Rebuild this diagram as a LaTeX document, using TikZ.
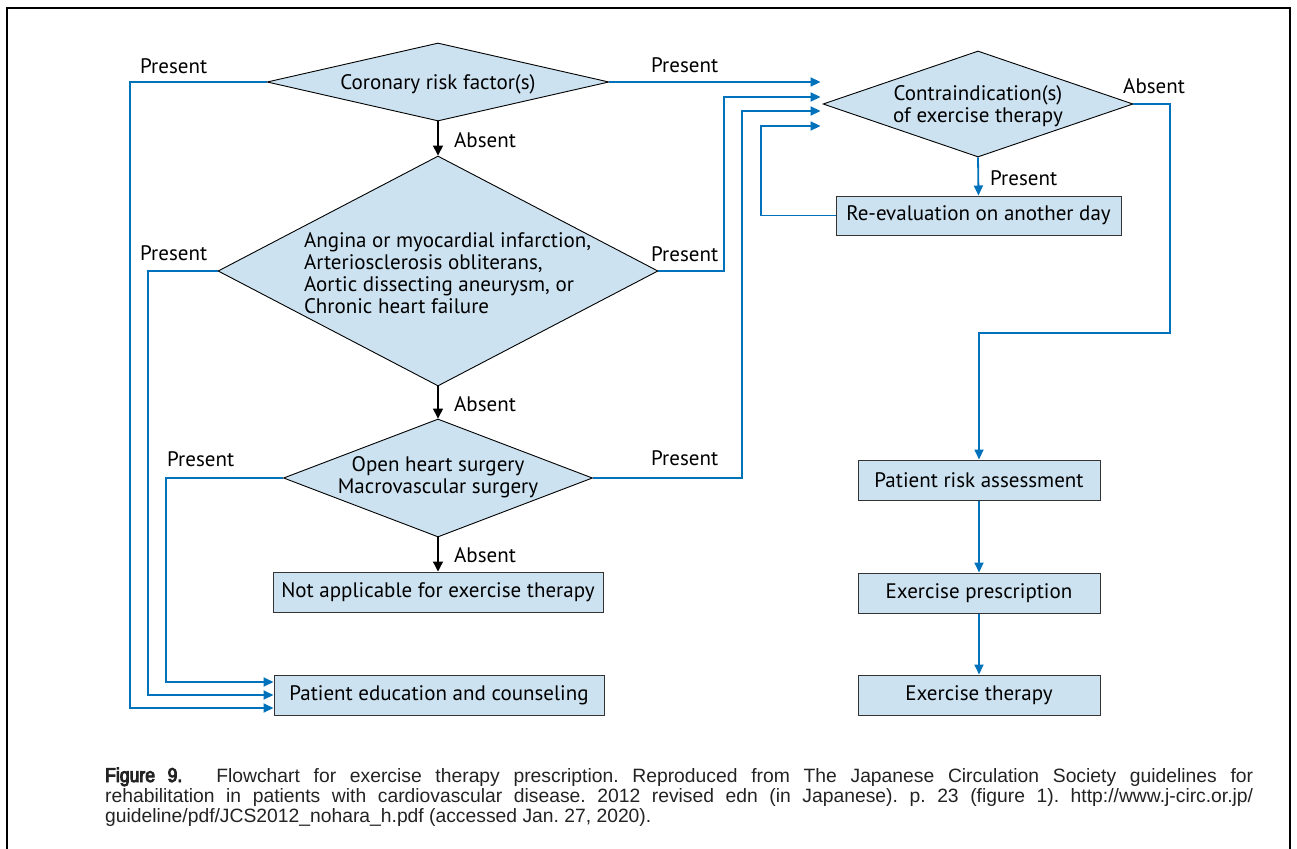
\documentclass[tikz,border=0pt]{standalone}
\usepackage{fontspec}
\setmainfont{PT Sans}
\newfontfamily\capfont{Liberation Sans}
\newfontfamily\capbold{Liberation Sans}[FakeStretch=0.88,FakeBold=4.5]
\usetikzlibrary{shapes.geometric,arrows.meta,calc}
\definecolor{fillblue}{RGB}{204,226,240}
\definecolor{lineblue}{RGB}{0,114,188}
\definecolor{captext}{RGB}{35,35,35}
% zero-size text inside a diamond: #1 x-shift, #2 raise, #3 column spec, #4 text
\newcommand\dtxtc[4]{\makebox[0pt]{\hspace*{#1}\raisebox{#2}[0pt][0pt]{\begin{tabular}{@{}#3@{}}#4\end{tabular}}}}
\newcommand\dtxtl[4]{\makebox[0pt][l]{\hspace*{#1}\raisebox{#2}[0pt][0pt]{\begin{tabular}{@{}#3@{}}#4\end{tabular}}}}
\begin{document}
\begin{tikzpicture}[x=1pt,y=-1pt,
  dia/.style={diamond, draw=black, line width=0.9pt, fill=fillblue, inner sep=0pt,
    font=\fontsize{21}{22}\selectfont},
  rbox/.style={rectangle, draw=black!80, line width=1pt, fill=fillblue, inner sep=0pt,
    font=\fontsize{21}{22}\selectfont},
  bline/.style={draw=lineblue, line width=1.8pt},
  barrow/.style={bline, -{Triangle[length=10pt,width=9pt]}},
  karrow/.style={draw=black, line width=1.4pt, -{Triangle[length=10pt,width=10pt]}},
  lab/.style={inner sep=0pt, anchor=west, font=\fontsize{21}{22}\selectfont},
]
\useasboundingbox (0,0) rectangle (1297,848);
\fill[white] (0,0) rectangle (1297,848);
% frame
\draw[line width=2.5pt] (7,870) -- (7,8) -- (1290,8) -- (1290,870);

% decision diamonds
\node[dia, minimum width=342pt, minimum height=78pt] (d1) at (438,82)
  {\dtxtc{0pt}{-8pt}{c}{Coronary risk factor(s)}};
\node[dia, minimum width=440pt, minimum height=230pt] (d2) at (438,271)
  {\dtxtl{-134pt}{-10.4pt}{l}{Angina or myocardial infarction,\\Arteriosclerosis obliterans,\\Aortic dissecting aneurysm, or\\Chronic heart failure}};
\node[dia, minimum width=309pt, minimum height=118pt] (d3) at (438,478)
  {\dtxtc{0pt}{-5.4pt}{c}{Open heart surgery\\Macrovascular surgery}};
\node[dia, minimum width=310pt, minimum height=106pt] (contra) at (978,104)
  {\dtxtc{0pt}{-8.6pt}{c}{Contraindication(s)\\of exercise therapy}};

% boxes
\node[rbox, minimum width=330pt, minimum height=40pt] (na) at (438,592) {Not applicable for exercise therapy};
\node[rbox, minimum width=330pt, minimum height=40pt] (edu) at (439,695) {Patient education and counseling};
\node[rbox, minimum width=285pt, minimum height=39pt] (reeval) at (978.5,215.5) {Re-evaluation on another day};
\node[rbox, minimum width=242pt, minimum height=40pt] (risk) at (979,480) {Patient risk assessment};
\node[rbox, minimum width=242pt, minimum height=40pt] (presc) at (979,593) {Exercise prescription};
\node[rbox, minimum width=242pt, minimum height=40pt] (ther) at (979,695) {Exercise therapy};

% bus coordinates
\coordinate (xa) at (130,0);
\coordinate (xb) at (148,0);
\coordinate (xc) at (166,0);
\coordinate (xd) at (724,0);
\coordinate (xe) at (742,0);
\coordinate (xf) at (761,0);
\coordinate (xg) at (1170,0);
\coordinate (yg) at (0,333);

% left side to education
\draw[barrow] (d1.west) -- (d1.west -| xa) |- ([yshift=-13pt]edu.west);
\draw[barrow] (d2.west) -- (d2.west -| xb) |- (edu.west);
\draw[barrow] (d3.west) -- (d3.west -| xc) |- ([yshift=13pt]edu.west);

% right side to contraindication
\draw[barrow] (d1.east) -- ([xshift=-2pt]contra.west |- d1.east);
\draw[barrow] (d2.east) -- (d2.east -| xd) |- ([xshift=-2pt,yshift=7pt]contra.west);
\draw[barrow] (d3.east) -- (d3.east -| xe) |- ([xshift=-2pt,yshift=-7pt]contra.west);
\draw[barrow] (reeval.west) -- (reeval.west -| xf) |- ([xshift=-2pt,yshift=-22pt]contra.west);

% right column
\draw[barrow] (contra.south) -- (reeval.north);
\draw[barrow] (contra.east) -- (contra.east -| xg) -- (xg |- yg) -| (risk.north);
\draw[barrow] (risk.south) -- (presc.north);
\draw[barrow] (presc.south) -- (ther.north);

% black absent arrows
\draw[karrow] (d1.south) -- (d2.north);
\draw[karrow] (d2.south) -- (d3.north);
\draw[karrow] (d3.south) -- (na.north);

% labels
\node[lab] (l1) at (140,66) {Present};
\node[lab] (l2) at (651,65) {Present};
\node[lab] (l3) at (454,140) {Absent};
\node[lab] (l4) at (140,253) {Present};
\node[lab] (l5) at (651,254) {Present};
\node[lab] (l6) at (454,404) {Absent};
\node[lab] (l7) at (167,459) {Present};
\node[lab] (l8) at (651,458) {Present};
\node[lab] (l9) at (454,555) {Absent};
\node[lab] (l10) at (1123,86) {Absent};
\node[lab] (l11) at (990,178) {Present};

% caption
\node[anchor=base west, inner sep=0pt, text=captext] (cap) at (105,782)
 {\parbox[t]{1148pt}{\capfont\fontsize{19.3}{20}\selectfont\frenchspacing\hyphenpenalty=10000\emergencystretch=0pt
 {\capbold\fontsize{20}{20}\selectfont Figure 9.}\hspace{34pt}Flowchart for exercise therapy prescription. Reproduced from The Japanese Circulation Society guidelines for\linebreak
 rehabilitation in patients with cardiovascular disease. 2012 revised edn (in Japanese). p. 23 (figure 1). http://www.j-circ.or.jp/\linebreak
 guideline/pdf/JCS2012\_nohara\_h.pdf (accessed Jan. 27, 2020).}};
\end{tikzpicture}
\end{document}
